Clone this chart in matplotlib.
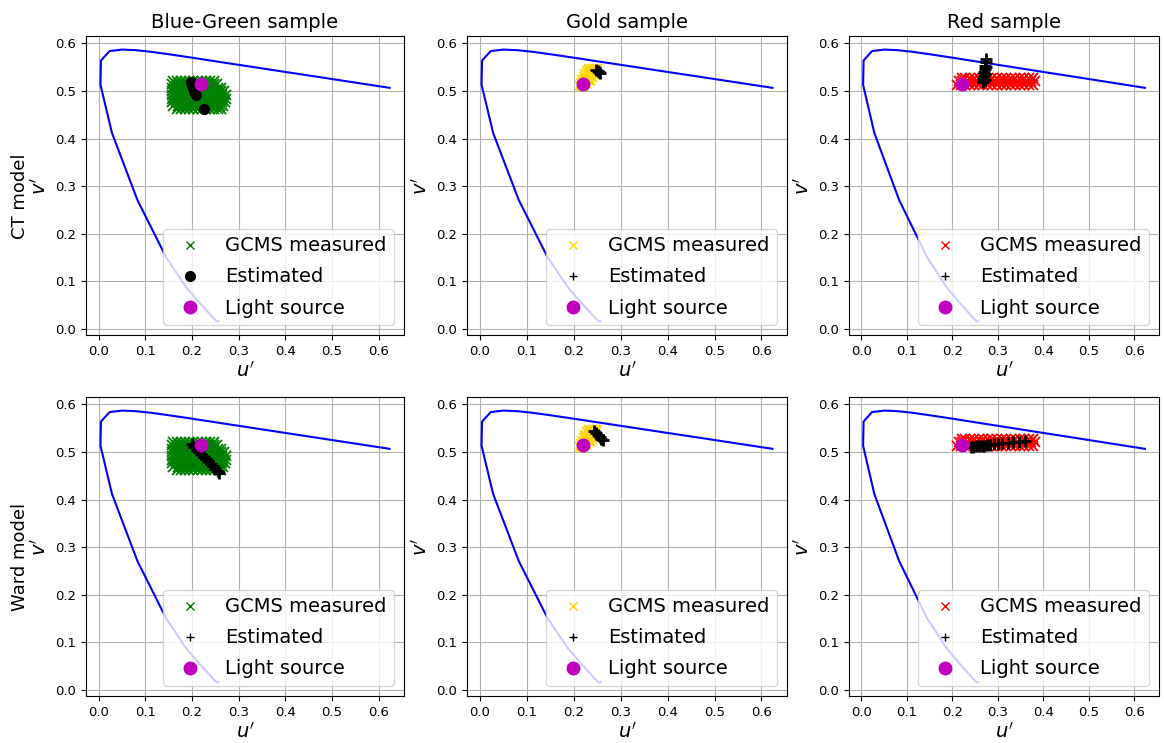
import numpy as np
import matplotlib.pyplot as plt
from matplotlib.lines import Line2D

# CIE 1976 u'v' spectral locus, 380..700 nm every 10 nm
locus_u = [0.2568, 0.2564, 0.2557, 0.2545, 0.2522, 0.2461, 0.2347, 0.2161, 0.1877,
           0.1441, 0.0828, 0.0282, 0.0035, 0.0046, 0.0231, 0.0501, 0.0792, 0.1127,
           0.1531, 0.2026, 0.2623, 0.3315, 0.4035, 0.4692, 0.5203, 0.5565, 0.5830,
           0.6005, 0.6109, 0.6162, 0.6199, 0.6226, 0.6234]
locus_v = [0.0166, 0.0163, 0.0159, 0.0159, 0.0169, 0.0226, 0.0350, 0.0549, 0.0871,
           0.1510, 0.2708, 0.4117, 0.5131, 0.5638, 0.5837, 0.5868, 0.5856, 0.5821,
           0.5766, 0.5694, 0.5604, 0.5501, 0.5393, 0.5296, 0.5219, 0.5165, 0.5125,
           0.5099, 0.5084, 0.5076, 0.5070, 0.5066, 0.5065]

light_u = [0.220]
light_v = [0.515]

samples = ['Blue-Green sample', 'Gold sample', 'Red sample']
models = ['CT model', 'Ward model']
colors = ['green', 'gold', 'red']

# GCMS measured chromaticities, stored row by row (v' of the row, u' values)
green_rows_v = [0.521, 0.514, 0.506, 0.499, 0.491, 0.484, 0.476, 0.468, 0.461]
green_rows_u = [
    [0.158, 0.167, 0.176, 0.185, 0.194, 0.203, 0.212, 0.221, 0.230, 0.239, 0.246],
    [0.156, 0.165, 0.174, 0.183, 0.192, 0.201, 0.210, 0.219, 0.228, 0.237, 0.246, 0.254],
    [0.156, 0.165, 0.174, 0.183, 0.192, 0.201, 0.210, 0.219, 0.228, 0.237, 0.246, 0.255, 0.262],
    [0.156, 0.165, 0.174, 0.183, 0.192, 0.201, 0.210, 0.219, 0.228, 0.237, 0.246, 0.255, 0.263, 0.269],
    [0.156, 0.165, 0.174, 0.183, 0.192, 0.201, 0.210, 0.219, 0.228, 0.237, 0.246, 0.255, 0.264, 0.272],
    [0.156, 0.165, 0.174, 0.183, 0.192, 0.201, 0.210, 0.219, 0.228, 0.237, 0.246, 0.255, 0.264, 0.273],
    [0.157, 0.166, 0.175, 0.184, 0.193, 0.202, 0.211, 0.220, 0.229, 0.238, 0.247, 0.256, 0.265, 0.271],
    [0.160, 0.169, 0.178, 0.187, 0.196, 0.205, 0.214, 0.223, 0.232, 0.241, 0.250, 0.259, 0.267],
    [0.167, 0.176, 0.185, 0.194, 0.203, 0.212, 0.221, 0.230, 0.239, 0.248, 0.256, 0.262],
]
gold_rows_v = [0.511, 0.517, 0.523, 0.529, 0.535, 0.541, 0.546]
gold_rows_u = [
    [0.213, 0.219],
    [0.215, 0.221, 0.227],
    [0.218, 0.224, 0.230, 0.235],
    [0.221, 0.227, 0.233, 0.239],
    [0.225, 0.231, 0.237, 0.243],
    [0.229, 0.235, 0.241, 0.247],
    [0.233, 0.239, 0.245, 0.250],
]
red_rows_v = [0.513, 0.520, 0.527]
red_rows_u = [
    [0.210, 0.218, 0.228, 0.238, 0.248, 0.258, 0.268, 0.278, 0.288, 0.298, 0.308,
     0.318, 0.328, 0.338, 0.348, 0.358, 0.368, 0.377],
    [0.214, 0.222, 0.232, 0.242, 0.252, 0.262, 0.272, 0.282, 0.292, 0.302, 0.312,
     0.322, 0.332, 0.342, 0.352, 0.362, 0.372, 0.381],
    [0.220, 0.228, 0.238, 0.248, 0.258, 0.268, 0.278, 0.288, 0.298, 0.308, 0.318,
     0.328, 0.338, 0.348, 0.358, 0.368, 0.377],
]

# estimated chromaticities
ct_green_u = [0.198, 0.199, 0.201, 0.204, 0.207, 0.209, 0.225]
ct_green_v = [0.518, 0.512, 0.506, 0.500, 0.496, 0.492, 0.462]
ct_gold_u = [0.248, 0.251, 0.254, 0.256]
ct_gold_v = [0.544, 0.541, 0.539, 0.537]
ct_red_u = [0.267, 0.268, 0.269, 0.270, 0.271, 0.272, 0.273, 0.274, 0.271, 0.272, 0.273]
ct_red_v = [0.518, 0.525, 0.532, 0.539, 0.546, 0.553, 0.560, 0.566, 0.522, 0.536, 0.550]

ward_green_u = [0.200, 0.205, 0.210, 0.215, 0.220, 0.225, 0.230, 0.235, 0.240, 0.245, 0.250, 0.255, 0.258]
ward_green_v = [0.516, 0.510, 0.505, 0.500, 0.495, 0.490, 0.485, 0.480, 0.475, 0.470, 0.465, 0.460, 0.456]
ward_gold_u = [0.243, 0.247, 0.251, 0.255, 0.259, 0.262]
ward_gold_v = [0.543, 0.539, 0.535, 0.531, 0.527, 0.524]
ward_red_u = [0.240, 0.246, 0.252, 0.258, 0.264, 0.270, 0.276, 0.283, 0.292, 0.300, 0.310, 0.322, 0.333, 0.346, 0.360]
ward_red_v = [0.511, 0.511, 0.512, 0.512, 0.513, 0.513, 0.514, 0.515, 0.516, 0.517, 0.518, 0.519, 0.520, 0.521, 0.522]


def flatten(rows_v, rows_u):
    uu, vv = [], []
    for v, row in zip(rows_v, rows_u):
        uu += row
        vv += [v] * len(row)
    return uu, vv


measured = [flatten(green_rows_v, green_rows_u),
            flatten(gold_rows_v, gold_rows_u),
            flatten(red_rows_v, red_rows_u)]
estimated = [[(ct_green_u, ct_green_v), (ct_gold_u, ct_gold_v), (ct_red_u, ct_red_v)],
             [(ward_green_u, ward_green_v), (ward_gold_u, ward_gold_v), (ward_red_u, ward_red_v)]]

W, H = 1164, 743
fig = plt.figure(figsize=(W / 100, H / 100), dpi=100)

col_px = [(86, 404), (467, 787), (849, 1159)]
row_px = [(36, 335), (397, 696)]
row_label_y = [196, 557]

for r in range(2):
    for c in range(3):
        x0, x1 = col_px[c]
        y0, y1 = row_px[r]
        ax = fig.add_axes([x0 / W, 1 - y1 / H, (x1 - x0) / W, (y1 - y0) / H])
        ax.plot(locus_u, locus_v, 'b-', lw=1.5, zorder=2)
        mu, mv = measured[c]
        ax.plot(mu, mv, 'x', color=colors[c], ms=7, mew=1.3, zorder=3)
        eu, ev = estimated[r][c]
        if r == 0 and c == 0:
            ax.plot(eu, ev, 'ko', ms=7, zorder=4)
            est_marker = 'o'
        else:
            ax.plot(eu, ev, 'k+', ms=8, mew=2, zorder=4)
            est_marker = '+'
        ax.plot(light_u, light_v, 'mo', ms=9, zorder=5)
        ax.grid(True, color='#b0b0b0', lw=0.8)
        ax.tick_params(labelsize=9.5)
        ax.set_xlabel("$u'$", fontsize=14, labelpad=2)
        ax.set_ylabel("$v'$", fontsize=14, labelpad=4)
        if r == 0:
            ax.set_title(samples[c], fontsize=14)
        handles = [Line2D([], [], ls='none', marker='x', color=colors[c], ms=6),
                   Line2D([], [], ls='none', marker=est_marker, color='k',
                          ms=7 if est_marker == 'o' else 6),
                   Line2D([], [], ls='none', marker='o', color='m', ms=9)]
        ax.legend(handles, ['GCMS measured', 'Estimated', 'Light source'],
                  loc='lower right', fontsize=14, labelspacing=0.62)
    fig.text(20 / W, 1 - row_label_y[r] / H, models[r], rotation=90,
             fontsize=13, ha='center', va='center')

fig.savefig('out.png', dpi=100)
